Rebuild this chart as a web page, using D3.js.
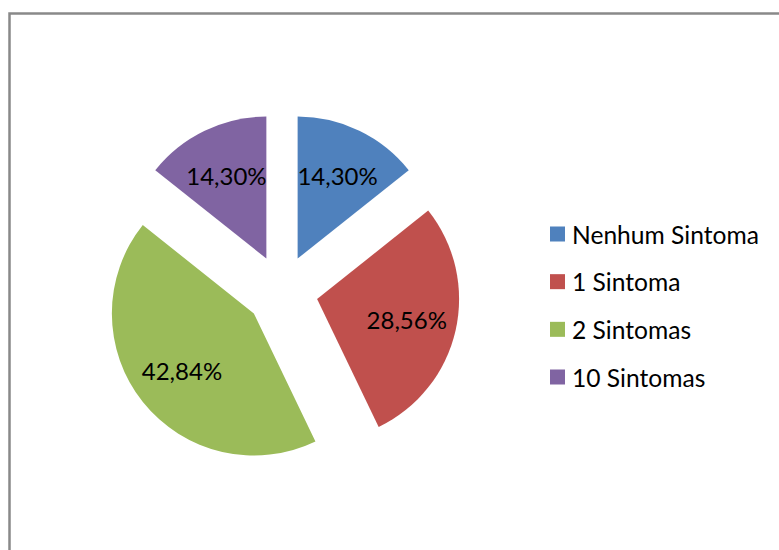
<!DOCTYPE html>
<html><head><meta charset="utf-8">
<script src="https://cdn.jsdelivr.net/npm/d3@7"></script>
<style>body{margin:0;background:#fff}svg{display:block}</style>
</head><body>
<script>
const categories = ["Nenhum Sintoma", "1 Sintoma", "2 Sintomas", "10 Sintomas"];
const values = [14.30, 28.56, 42.84, 14.30];
const colors = ["#4F81BD", "#C0504D", "#9BBB59", "#8064A2"];

const W = 779, H = 550;
const svg = d3.select("body").append("svg").attr("width", W).attr("height", H);

// chart frame
svg.append("rect").attr("x", 9.5).attr("y", 13.5).attr("width", W + 20).attr("height", H + 20)
  .attr("fill", "#fff").attr("stroke", "#898989").attr("stroke-width", 2.5);

const cx = 282, cy = 291, r = 142, explode = 36, labelR = 92;
const pie = d3.pie().sort(null).value(d => d);
const arcs = pie(values);
const arc = d3.arc().innerRadius(0).outerRadius(r);
const fmt = v => v.toFixed(2).replace(".", ",") + "%";

const g = svg.append("g").attr("transform", `translate(${cx},${cy})`);
arcs.forEach((a, i) => {
  const mid = (a.startAngle + a.endAngle) / 2;
  const ox = Math.sin(mid) * explode, oy = -Math.cos(mid) * explode;
  const sg = g.append("g").attr("transform", `translate(${ox},${oy})`);
  sg.append("path").attr("d", arc(a)).attr("fill", colors[i]);
  sg.append("text")
    .attr("x", Math.sin(mid) * labelR).attr("y", -Math.cos(mid) * labelR)
    .attr("text-anchor", "middle").attr("dominant-baseline", "central")
    .attr("font-family", "Lato, 'Open Sans', sans-serif").attr("font-size", 24)
    .attr("fill", "#000").text(fmt(values[i]));
});

const legend = svg.append("g");
const ly = d3.scalePoint().domain(categories).range([234, 377]);
categories.forEach((c, i) => {
  const y = ly(c);
  legend.append("rect").attr("x", 550).attr("y", y - 7.5).attr("width", 15).attr("height", 15).attr("fill", colors[i]);
  legend.append("text").attr("x", 572).attr("y", y).attr("dominant-baseline", "central")
    .attr("font-family", "Lato, 'Open Sans', sans-serif").attr("font-size", 24.6)
    .attr("fill", "#000").text(c);
});
</script>
</body></html>
